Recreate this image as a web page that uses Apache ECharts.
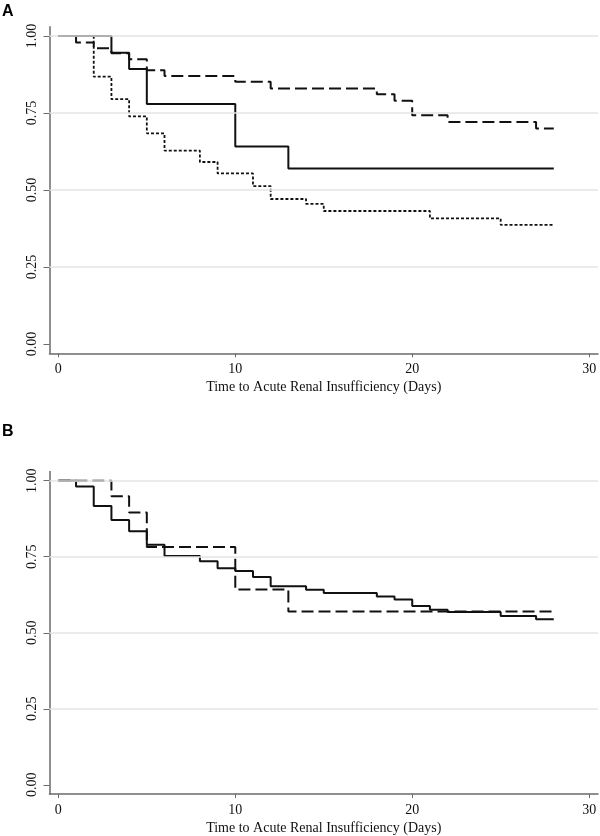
<!DOCTYPE html>
<html>
<head>
<meta charset="utf-8">
<script src="https://cdn.jsdelivr.net/npm/echarts@6/dist/echarts.min.js"></script>
<style>
html,body{margin:0;padding:0;background:#fff;}
#chart{width:600px;height:836px;}
</style>
</head>
<body>
<div id="chart"></div>
<script>
// ---- Data ----
const xTicks = [0, 10, 20, 30];
const yTicks = [0, 0.25, 0.5, 0.75, 1.0];
const xTitle = 'Time to Acute Renal Insufficiency (Days)';

// Panel A
const aSolidT  = [0, 3, 4, 5, 10, 13, 28];
const aSolidS  = [1, 0.946, 0.893, 0.779, 0.641, 0.570, 0.570];
const aDashT   = [0, 1, 2, 3, 4, 5, 6, 10, 12, 18, 19, 20, 22, 27, 28];
const aDashS   = [1, 0.979, 0.960, 0.944, 0.925, 0.889, 0.870, 0.852, 0.830, 0.811, 0.790, 0.743, 0.721, 0.700, 0.700];
const aDotT    = [0, 2, 3, 4, 5, 6, 8, 9, 11, 12, 14, 15, 21, 25, 28];
const aDotS    = [1, 0.868, 0.795, 0.739, 0.684, 0.628, 0.591, 0.554, 0.513, 0.471, 0.455, 0.432, 0.408, 0.387, 0.387];

// Panel B
const bSolidT  = [0, 1, 2, 3, 4, 5, 6, 8, 9, 10, 11, 12, 14, 15, 18, 19, 20, 21, 22, 25, 27, 28];
const bSolidS  = [1, 0.981, 0.917, 0.871, 0.834, 0.789, 0.752, 0.735, 0.712, 0.703, 0.683, 0.653, 0.641, 0.631, 0.619, 0.609, 0.588, 0.576, 0.568, 0.555, 0.544, 0.544];
const bDashT   = [0, 3, 4, 5, 10, 13, 28];
const bDashS   = [1, 0.949, 0.895, 0.782, 0.642, 0.570, 0.570];

// ---- Build ----
const zip = (t, s) => t.map((v, i) => [v, s[i]]);
const SERIF = '"Liberation Serif", "Times New Roman", serif';
const axisColor = '#6a6a6a';

function xAxisDef(gi) {
  return {
    type: 'value', gridIndex: gi, min: -0.5, max: 30.5,
    name: xTitle, nameLocation: 'middle', nameGap: 27,
    nameTextStyle: {fontFamily: SERIF, fontSize: 14, color: '#111'},
    axisLine: {show: true, onZero: false, lineStyle: {color: axisColor, width: 1.5}},
    axisTick: {show: true, customValues: xTicks, length: 4, lineStyle: {color: axisColor, width: 1}},
    axisLabel: {customValues: xTicks, fontFamily: SERIF, fontSize: 14, color: '#111', margin: 9},
    splitLine: {show: false}
  };
}
function yAxisDef(gi) {
  return {
    type: 'value', gridIndex: gi, min: -0.03, max: 1.03,
    axisLine: {show: true, onZero: false, lineStyle: {color: axisColor, width: 1.5}},
    axisTick: {show: true, customValues: yTicks, length: 6, lineStyle: {color: axisColor, width: 1}},
    axisLabel: {customValues: yTicks, rotate: 90, formatter: v => v.toFixed(2),
      fontFamily: SERIF, fontSize: 14, color: '#111', margin: 10},
    splitLine: {show: false}
  };
}
function gridLines(gi) {
  return {
    type: 'line', xAxisIndex: gi, yAxisIndex: gi, data: [], z: 1, silent: true,
    markLine: {
      silent: true, symbol: ['none', 'none'], animation: false,
      label: {show: false},
      lineStyle: {color: '#e4e4e4', width: 1.5, type: 'solid'},
      data: yTicks.filter(v => v > 0).map(v => ({yAxis: v}))
    }
  };
}
function curve(gi, t, s, style) {
  return {
    type: 'line', xAxisIndex: gi, yAxisIndex: gi, step: 'end', z: 3,
    showSymbol: false, symbol: 'none', animation: false, silent: true,
    lineStyle: Object.assign({color: '#111', width: 2}, style),
    data: zip(t, s)
  };
}

const solid = {type: 'solid', width: 2};
const dashed = {type: [12, 5], width: 2};
const dotted = {type: [3, 2], width: 1.8};

const option = {
  backgroundColor: '#fff',
  animation: false,
  grid: [
    {left: 49.5, top: 26.8, width: 548.5, height: 326.5},
    {left: 49.5, top: 471.5, width: 548.5, height: 325.5}
  ],
  xAxis: [xAxisDef(0), xAxisDef(1)],
  yAxis: [yAxisDef(0), yAxisDef(1)],
  graphic: [
    {type: 'text', left: 2, top: 4, style: {text: 'A', fontFamily: '"Liberation Sans", Arial, sans-serif', fontWeight: 'bold', fontSize: 16, fill: '#000'}},
    {type: 'text', left: 2, top: 424, style: {text: 'B', fontFamily: '"Liberation Sans", Arial, sans-serif', fontWeight: 'bold', fontSize: 16, fill: '#000'}}
  ],
  series: [
    gridLines(0),
    curve(0, aDashT, aDashS, dashed),
    curve(0, aDotT, aDotS, dotted),
    curve(0, aSolidT, aSolidS, solid),
    gridLines(1),
    curve(1, bDashT, bDashS, dashed),
    curve(1, bSolidT, bSolidS, solid)
  ]
};

const chart = echarts.init(document.getElementById('chart'), null, {renderer: 'canvas'});
chart.setOption(option);
</script>
</body>
</html>
